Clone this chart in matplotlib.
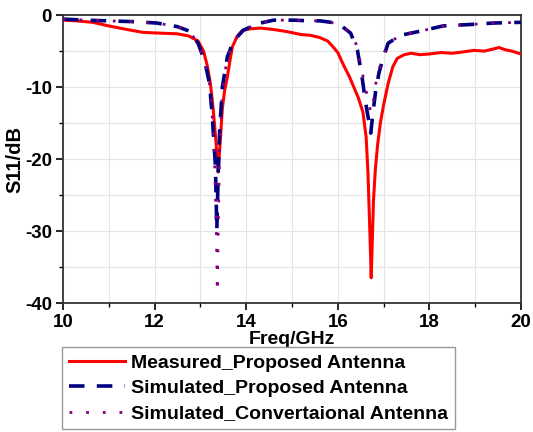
import matplotlib
matplotlib.use("Agg")
import matplotlib.pyplot as plt
from matplotlib.ticker import MultipleLocator

plt.rcParams['font.family'] = ['Liberation Sans', 'DejaVu Sans']
plt.rcParams['font.weight'] = 'bold'
plt.rcParams['axes.unicode_minus'] = False

# Measured S11 of the proposed antenna
freq_meas = [10.0, 10.3, 10.65, 11.0, 11.4, 11.75, 12.1, 12.5, 12.75, 12.95,
             13.07, 13.15, 13.22, 13.28, 13.34, 13.39, 13.44, 13.48, 13.53, 13.59,
             13.65, 13.7, 13.8, 13.92, 14.1, 14.31, 14.6, 14.9, 15.2, 15.4,
             15.6, 15.78, 15.91, 16.0, 16.13, 16.25, 16.35, 16.45, 16.55, 16.62,
             16.66, 16.7, 16.73, 16.76, 16.78, 16.82, 16.87, 16.93, 17.0, 17.1,
             17.2, 17.3, 17.45, 17.6, 17.8, 18.0, 18.25, 18.5, 18.75, 18.97,
             19.2, 19.4, 19.52, 19.65, 19.8, 20.0]
s11_meas = [-0.7, -0.8, -1.0, -1.5, -2.0, -2.4, -2.5, -2.6, -2.9, -3.6,
            -5.0, -7.0, -9.5, -13.0, -17.5, -21.8, -17.0, -13.0, -10.5, -8.6,
            -6.2, -4.4, -3.0, -2.1, -1.9, -1.8, -2.0, -2.3, -2.7, -2.8,
            -3.1, -3.6, -4.5, -5.2, -7.0, -8.5, -10.0, -11.5, -13.5, -17.0,
            -22.0, -30.0, -36.5, -30.0, -25.7, -21.5, -18.0, -15.0, -12.5, -9.5,
            -7.2, -6.0, -5.5, -5.3, -5.5, -5.4, -5.2, -5.3, -5.1, -4.9,
            -5.0, -4.7, -4.5, -4.8, -5.0, -5.4]

# Simulated S11 of the proposed antenna
freq_sim = [10.0, 10.5, 11.0, 11.5, 12.05, 12.5, 12.75, 12.95, 13.1, 13.2,
            13.26, 13.33, 13.36, 13.39, 13.42, 13.48, 13.59, 13.7, 13.81, 13.94,
            14.24, 14.6, 15.03, 15.4, 15.62, 15.85, 16.06, 16.28, 16.43, 16.53,
            16.6, 16.67, 16.72, 16.77, 16.83, 16.9, 16.98, 17.1, 17.37, 17.75,
            18.3, 18.9, 19.4, 20.0]
s11_sim = [-0.55, -0.7, -0.8, -0.9, -1.1, -1.6, -2.2, -3.9, -6.5, -9.5,
           -14.0, -21.0, -29.9, -22.0, -16.4, -10.0, -5.8, -4.0, -3.0, -2.1,
           -1.2, -0.7, -0.7, -0.8, -0.8, -1.0, -1.4, -2.5, -4.9, -8.6,
           -11.8, -14.5, -16.4, -13.5, -10.4, -8.0, -6.2, -3.9, -2.8, -2.3,
           -1.5, -1.3, -1.1, -1.0]

# Simulated S11 of the conventional antenna
freq_conv = [10.0, 10.5, 11.0, 11.5, 12.05, 12.5, 12.75, 12.95, 13.1, 13.2,
             13.26, 13.31, 13.35, 13.37, 13.39, 13.42, 13.48, 13.59, 13.7, 13.81,
             13.94, 14.24, 14.6, 15.03, 15.4, 15.62, 15.85, 16.06, 16.28, 16.43,
             16.53, 16.6, 16.67, 16.72, 16.77, 16.83, 16.9, 16.98, 17.1, 17.37,
             17.75, 18.3, 18.9, 19.4, 20.0]
s11_conv = [-0.55, -0.7, -0.8, -0.9, -1.1, -1.6, -2.2, -3.9, -6.5, -9.5,
            -14.0, -20.0, -30.0, -38.5, -30.0, -19.0, -10.5, -5.8, -4.0, -3.0,
            -2.1, -1.2, -0.7, -0.7, -0.8, -0.8, -1.0, -1.4, -2.5, -4.4,
            -7.9, -10.0, -12.0, -13.5, -12.3, -9.5, -7.6, -5.8, -3.9, -2.8,
            -2.3, -1.5, -1.3, -1.1, -1.0]

fig = plt.figure(figsize=(5.33, 4.32), dpi=100)
ax = fig.add_axes([0.118, 0.2986, 0.8595, 0.6664])

ax.plot(freq_meas, s11_meas, color='#ff0000', lw=2.2, label='Measured_Proposed Antenna', zorder=3)
ax.plot(freq_sim, s11_sim, color='#000080', lw=2.6, linestyle=(0, (4.3, 3.4)),
        label='Simulated_Proposed Antenna', zorder=4)
ax.plot(freq_conv, s11_conv, color='#800080', lw=2.0, linestyle=(0, (1, 5)),
        label='Simulated_Convertaional Antenna', zorder=5)

ax.set_xlim(10, 20)
ax.set_ylim(-40, 0)
ax.xaxis.set_major_locator(MultipleLocator(2))
ax.xaxis.set_minor_locator(MultipleLocator(1))
ax.yaxis.set_major_locator(MultipleLocator(10))
ax.yaxis.set_minor_locator(MultipleLocator(5))
ax.grid(True, which='both', color='#e4e4e4', lw=0.8)
ax.set_axisbelow(True)
ax.tick_params(which='major', length=5, width=1.2, labelsize=13.5, pad=3)
ax.tick_params(which='minor', length=3, width=1.0)
for sp in ax.spines.values():
    sp.set_linewidth(1.3)
    sp.set_color('#333333')

ax.set_xlabel('Freq/GHz', fontsize=14, fontweight='bold', labelpad=0)
ax.set_ylabel('S11/dB', fontsize=14.5, fontweight='bold', labelpad=0)

leg = fig.legend(loc='upper left', bbox_to_anchor=(0.116, 0.196), borderaxespad=0,
                 fontsize=14, handlelength=2.9, handletextpad=0.3, labelspacing=0.4,
                 borderpad=0.35, fancybox=False, framealpha=1)
leg.get_frame().set_edgecolor('#999999')
leg.get_frame().set_linewidth(1.0)

fig.savefig('out.png', dpi=100)
